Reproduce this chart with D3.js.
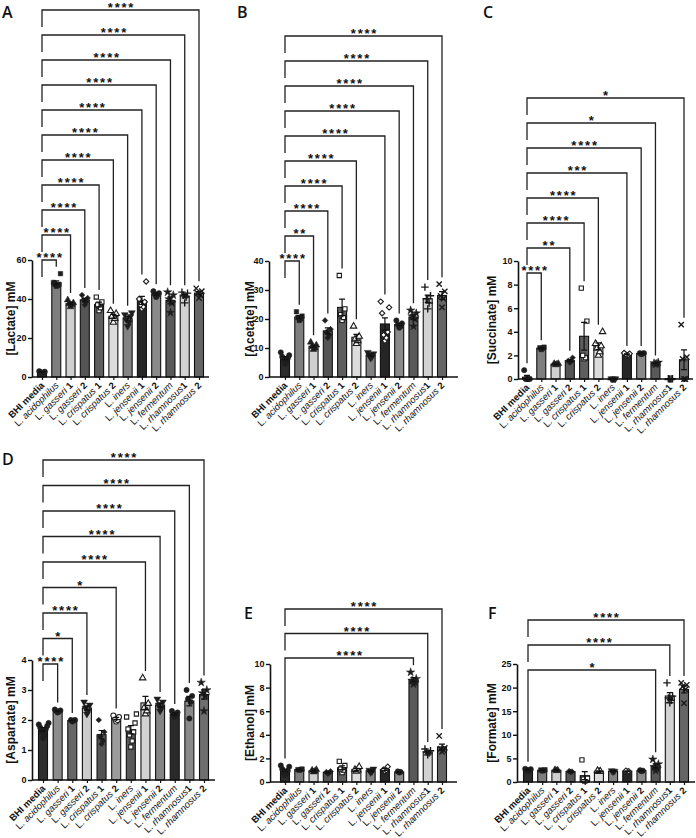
<!DOCTYPE html>
<html><head><meta charset="utf-8">
<script src="https://cdn.jsdelivr.net/npm/d3@7"></script>
<style>body{margin:0;background:#fff}svg{display:block}svg text{-webkit-font-smoothing:antialiased}</style>
</head><body><svg id="c" width="696" height="838"></svg>
<script>
// ---------- DATA ----------
const groups = ["BHI media","L. acidophilus","L. gasseri 1","L. gasseri 2","L. crispatus 1","L. crispatus 2","L. iners","L. jensenii 1","L. jensenii 2","L. fermentum","L. rhamnosus1","L. rhamnosus 2"];

// replicate values (mM) per group, in group order
const lactate = [[2.0,2.3,2.5,2.7,3.0],[46.5,47,47.5,47.5,48.5,53],[36,37,37.5,38,39.5],[37,38.5,39.5,40.5,42],[34,35.5,37,38.5,41],[28,30,31,32.5,34],[26,28,29.5,31,32,33],[35,36,37,38.5,40,49],[41,42,42.5,43,44],[33,38,40,42,43.5],[38,41,42,43,43.5],[40.5,42,43,44,45.5]];
const acetate = [[4.5,5.5,6,6.5,7,7.5,8.5],[19.5,20,20.5,21,22.5],[9.5,10,10.5,11,12],[13.5,14.5,15.5,16.5,19.5],[19.5,20.5,21.5,23.5,35],[11.5,12.5,13,14,17.5],[6.5,7,7.5,8,8.5],[12.5,13.5,14.5,15.5,22,24,26],[17,17.5,18,18.5,19.5],[17.5,20,21,22,23],[23.5,25.5,27,28,31],[24,27,28,29.5,32]];
const succinate = [[0,0,0,0,0.75],[2.5,2.6,2.65,2.7],[1.2,1.25,1.3,1.3],[1.4,1.5,1.55,1.8],[1.7,1.8,2.0,4.9,7.7],[2.0,2.3,2.6,2.8,3.0,4.0],[0,0,0.02,0.02],[2.0,2.05,2.1,2.15,2.2],[2.1,2.15,2.2,2.2],[1.25,1.3,1.35,1.4],[0,0,0.02,0.02],[0,0,1.7,1.85,4.6]];
const aspartate = [[1.4,1.5,1.6,1.7,1.75,1.8,1.85,1.9],[2.25,2.28,2.3,2.32,2.35],[1.95,1.98,2.0,2.0],[2.2,2.3,2.4,2.5,2.6],[1.2,1.3,1.45,1.6,2.0],[1.95,2.0,2.05,2.1,2.15],[1.1,1.3,1.5,1.6,1.7,1.9,2.1,2.2],[2.2,2.3,2.4,2.55,3.4],[2.3,2.4,2.5,2.6,2.7],[2.1,2.15,2.2,2.25,2.3],[2.05,2.6,2.7,2.8,3.0],[2.3,2.8,2.9,3.0,3.25]];
const ethanol = [[0.6,0.75,0.85,0.95,1.1,1.3,1.4],[1.0,1.05,1.05,1.1],[0.85,0.9,1.0,1.05],[0.7,0.8,0.85,0.9],[0.8,1.0,1.1,1.4,1.75],[0.9,1.0,1.05,1.3],[0.8,0.9,1.0,1.1],[0.9,1.0,1.05,1.3],[0.8,0.85,0.9],[8.3,8.45,8.6,8.75,9.3],[2.3,2.45,2.55,2.65,2.8],[2.55,2.7,2.8,2.9,3.9]];
const formate = [[2.3,2.5,2.6,2.7,2.8],[2.35,2.45,2.55,2.6],[2.4,2.5,2.6],[2.1,2.2,2.3],[0.2,0.4,0.6,0.8,4.7],[2.2,2.3,2.4],[2.2,2.3,2.4],[2.2,2.3,2.4],[2.3,2.4,2.5],[2.4,2.8,3.2,3.8,4.8],[16.8,17.3,17.8,18.2,21],[16.7,19.6,20.2,20.6,21.0]];

// tick labels
const ticksA = [0,20,40,60], ticksB = [0,10,20,30,40], ticksC = [0,2,4,6,8,10];
const ticksD = [0,1,2,3,4], ticksE = [0,2,4,6,8,10], ticksF = [0,5,10,15,20,25];

// significance vs BHI media: [group index, label], bottom bracket first
const sigA = [[1,"****"],[2,"****"],[3,"****"],[4,"****"],[5,"****"],[6,"****"],[7,"****"],[8,"****"],[9,"****"],[10,"****"],[11,"****"]];
const sigB = [[1,"****"],[2,"**"],[3,"****"],[4,"****"],[5,"****"],[7,"****"],[8,"****"],[9,"****"],[10,"****"],[11,"****"]];
const sigC = [[1,"****"],[3,"**"],[4,"****"],[5,"****"],[7,"***"],[8,"****"],[9,"*"],[11,"*"]];
const sigD = [[1,"****"],[2,"*"],[3,"****"],[5,"*"],[7,"****"],[8,"****"],[9,"****"],[10,"****"],[11,"****"]];
const sigE = [[9,"****"],[10,"****"],[11,"****"]];
const sigF = [[9,"*"],[10,"****"],[11,"****"]];

// ---------- STYLE ----------
const pal = ["#2b2b2b","#7e7e7e","#cfcfcf","#555555","#5e5e5e","#dcdcdc","#838383","#262626","#8a8a8a","#595959","#d2d2d2","#656565"];
const palD = ["#2e2e2e","#8c8c8c","#666666","#cccccc","#555555","#9c9c9c","#5a5a5a","#d2d2d2","#868686","#2a2a2a","#8a8a8a","#6e6e6e"];
const mk = ["circle","square","triangle","diamond","osquare","otriangle","tridown","odiamond","circle","star","plus","times"];
const mkD = ["circle","circle","circle","tridown","diamond","ocircle","osquare","otriangle","tridown","circle","circle","star"];
const FONT = "'Liberation Sans', Arial, sans-serif";
const INK = "#111";

const svg = d3.select("#c").style("font-family", FONT);

function symbolFor(name){
  const base = name.replace(/^o(?=circle|square|triangle|diamond)/,"");
  const open = name !== base;
  let type, size, rot = 0, stroke = false;
  switch(base){
    case "circle": type=d3.symbolCircle; size=22; break;
    case "square": type=d3.symbolSquare; size=20; break;
    case "triangle": type=d3.symbolTriangle; size=20; break;
    case "tridown": type=d3.symbolTriangle; size=20; rot=180; break;
    case "diamond": type=d3.symbolSquare; size=16; rot=45; break;
    case "star": type=d3.symbolStar; size=22; break;
    case "plus": type=d3.symbolPlus; size=20; stroke=true; break;
    case "times": type=d3.symbolTimes; size=20; stroke=true; break;
  }
  if (open) size *= 0.9;
  return {path: d3.symbol(type, size)(), rot, open, stroke};
}

function panel(cfg){
  const g = svg.append("g").attr("opacity",0.999);
  const y = d3.scaleLinear().domain([0, d3.max(cfg.ticks)]).range([cfg.yBottom, cfg.yTop]);
  const x = d3.scalePoint().domain(groups).range([cfg.xFirst, cfg.xLast]);
  const stats = cfg.data.map((v,i)=>({g:groups[i], i, v, mean:d3.mean(v), sem:(d3.deviation(v)||0)/Math.sqrt(v.length), max:d3.max(v)}));
  const bw = 9;

  // bars
  g.selectAll("rect.bar").data(stats).join("rect").attr("class","bar")
    .attr("x", d=>x(d.g)-bw/2).attr("y", d=>y(d.mean))
    .attr("width", bw).attr("height", d=>Math.max(0.8, y(0)-y(d.mean)))
    .attr("fill", d=>cfg.colors[d.i]).attr("stroke",INK).attr("stroke-width",1.1);

  // points
  stats.forEach(d=>{
    const s = symbolFor(cfg.markers[d.i]);
    d.v.forEach((val,j)=>{
      const off = ((j%2)?1:-1)*Math.ceil(j/2)*1.4;
      const p = g.append("path").attr("d", s.path)
        .attr("transform", `translate(${x(d.g)+off},${y(val)}) rotate(${s.rot})`);
      if (s.stroke) p.attr("fill","none").attr("stroke","#1a1a1a").attr("stroke-width",1.4);
      else if (s.open) p.attr("fill","#fff").attr("stroke","#1a1a1a").attr("stroke-width",1.1);
      else p.attr("fill","#1e1e1e").attr("stroke","#1e1e1e").attr("stroke-width",0.5);
    });
  });

  // error bars (mean ± SEM)
  stats.forEach(d=>{
    const cx = x(d.g), y1 = y(d.mean+d.sem), y0 = y(Math.max(0,d.mean-d.sem));
    g.append("path").attr("d", `M${cx},${y0}V${y1}M${cx-3},${y1}H${cx+3}M${cx-3},${y0}H${cx+3}`)
      .attr("stroke",INK).attr("stroke-width",1.2).attr("fill","none");
  });

  // y axis
  const ya = g.append("g").attr("transform",`translate(${cfg.axisX},0)`)
    .call(d3.axisLeft(y).tickValues(cfg.ticks).tickFormat(d3.format("d")).tickSize(4).tickSizeOuter(0).tickPadding(1.5));
  ya.select(".domain").attr("stroke",INK).attr("stroke-width",1.6);
  ya.selectAll(".tick line").attr("stroke",INK).attr("stroke-width",1.4);
  ya.selectAll(".tick text").attr("font-family",FONT).attr("font-size",9).attr("font-weight","bold").attr("fill",INK);

  // x axis
  const xEnd = cfg.xLast + (cfg.xFirst - cfg.axisX);
  g.append("line").attr("x1",cfg.axisX).attr("x2",xEnd).attr("y1",cfg.yBottom).attr("y2",cfg.yBottom)
    .attr("stroke",INK).attr("stroke-width",1.6);
  const xa = g.append("g").attr("transform",`translate(0,${cfg.yBottom})`)
    .call(d3.axisBottom(x).tickSize(3).tickSizeOuter(0).tickFormat(""));
  xa.select(".domain").remove();
  xa.selectAll(".tick line").attr("stroke",INK).attr("stroke-width",1.2);

  // x labels
  groups.forEach(name=>{
    const t = g.append("text")
      .attr("transform",`translate(${x(name)+3},${cfg.yBottom+9}) rotate(-45)`)
      .attr("text-anchor","end").attr("font-size",9.5).attr("fill",INK);
    const m = name.match(/^L\. ([a-z]+)( ?)(\d?)$/);
    if (!m){ t.attr("font-weight","bold").text(name); }
    else {
      t.append("tspan").attr("fill",INK).text("L. ");
      t.append("tspan").attr("fill",INK).attr("font-style","italic").text(m[1] + m[2]);
      if (m[3]) t.append("tspan").attr("fill",INK).attr("font-weight","bold").text(m[3]);
    }
  });

  // y title
  g.append("text").attr("transform",`translate(${cfg.titleX},${(cfg.yTop+cfg.yBottom)/2}) rotate(-90)`)
    .attr("text-anchor","middle").attr("font-size",12).attr("font-weight","bold").attr("fill",INK)
    .text(cfg.title);

  // panel letter
  g.append("text").attr("x",cfg.letterX).attr("y",cfg.letterY).attr("font-size",16)
    .attr("font-family","'Open Sans', 'Liberation Sans', sans-serif").attr("font-weight",600).attr("fill",INK).text(cfg.letter);

  // significance brackets
  const xl = x(groups[0]);
  cfg.sig.forEach((s,k)=>{
    const by = cfg.brBottom - k*cfg.brStep;
    const xr = x(groups[s[0]]);
    const rEnd = Math.max(by+4, y(stats[s[0]].max) - 7);
    const lEnd = (k===0 && cfg.longLeft) ? y(stats[0].max) - 7 : by + 17;
    g.append("path").attr("d",`M${xl},${lEnd}V${by}H${xr}V${rEnd}`)
      .attr("fill","none").attr("stroke","#222").attr("stroke-width",1.3);
    g.append("text").attr("x",(xl+xr)/2 + 1).attr("y",by+2).attr("text-anchor","middle")
      .attr("font-size",13).attr("font-weight","bold").attr("letter-spacing",1.8).attr("fill",INK)
      .text(s[1]);
  });
}

panel({data:lactate, ticks:ticksA, sig:sigA, colors:pal, markers:mk, title:"[Lactate] mM", letter:"A",
  axisX:32, xFirst:42, xLast:199, yTop:260, yBottom:377, brBottom:260, brStep:25, titleX:15, letterX:2, letterY:18, longLeft:false});
panel({data:acetate, ticks:ticksB, sig:sigB, colors:pal, markers:mk, title:"[Acetate] mM", letter:"B",
  axisX:269, xFirst:285, xLast:442, yTop:261, yBottom:377, brBottom:261, brStep:25, titleX:254, letterX:237, letterY:18, longLeft:false});
panel({data:succinate, ticks:ticksC, sig:sigC, colors:pal, markers:mk, title:"[Succinate] mM", letter:"C",
  axisX:518, xFirst:527, xLast:684, yTop:261, yBottom:379, brBottom:273, brStep:25, titleX:496, letterX:483, letterY:18, longLeft:true});
panel({data:aspartate, ticks:ticksD, sig:sigD, colors:palD, markers:mkD, title:"[Aspartate] mM", letter:"D",
  axisX:32, xFirst:43, xLast:204, yTop:660, yBottom:780, brBottom:664, brStep:25.5, titleX:15, letterX:2, letterY:465, longLeft:false});
panel({data:ethanol, ticks:ticksE, sig:sigE, colors:pal, markers:mk, title:"[Ethanol] mM", letter:"E",
  axisX:270, xFirst:285, xLast:442, yTop:664, yBottom:782, brBottom:658, brStep:24.5, titleX:254, letterX:244, letterY:619, longLeft:true});
panel({data:formate, ticks:ticksF, sig:sigF, colors:pal, markers:mk, title:"[Formate] mM", letter:"F",
  axisX:517, xFirst:528, xLast:684, yTop:664, yBottom:782, brBottom:670, brStep:25, titleX:496, letterX:488, letterY:619, longLeft:true});
</script></body></html>
